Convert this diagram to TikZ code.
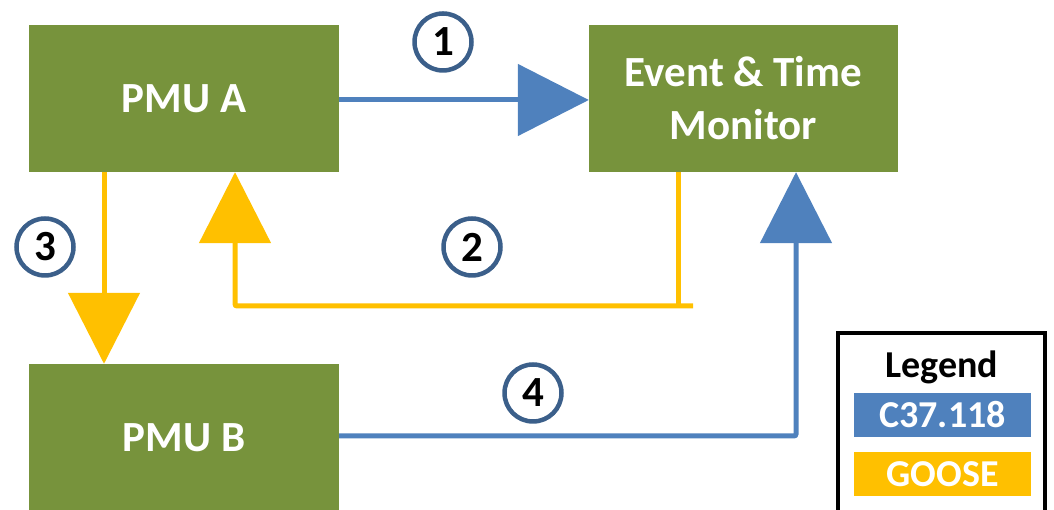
\documentclass[tikz,border=0pt]{standalone}
\usepackage{fontspec}
\setmainfont{Carlito}
\usetikzlibrary{arrows.meta,calc}
\definecolor{boxgreen}{HTML}{77933C}
\definecolor{c37blue}{HTML}{4F81BD}
\definecolor{gooseyellow}{HTML}{FFC000}
\definecolor{ringblue}{HTML}{3B5F8A}
\tikzset{
  unitbox/.style={fill=boxgreen, draw=none, minimum width=310pt, minimum height=147pt, inner sep=0pt,
    text=white, font=\fontsize{43}{53}\selectfont\bfseries, align=center},
  bar/.style={draw=none, minimum width=177pt, minimum height=44pt, inner sep=0pt,
    text=white, font=\fontsize{38}{40}\selectfont\bfseries},
  numring/.style={circle, draw=ringblue, line width=4.5pt, fill=white, minimum size=57pt, inner sep=0pt,
    font=\fontsize{43}{43}\selectfont\bfseries},
  bluelink/.style={draw=c37blue, line width=5pt, rounded corners=2pt},
  yellowlink/.style={draw=gooseyellow, line width=5pt, rounded corners=2pt},
  bigtip/.style={-{Triangle[length=71pt,width=71pt]}},
}
\begin{document}
\begin{tikzpicture}[x=1pt,y=1pt]
\useasboundingbox (0,0) rectangle (1054,510);
\begin{scope}
\clip (0,0) rectangle (1054,510);
% units
\node[unitbox] (pmua) at (184,411.5) {PMU A};
\node[unitbox, minimum width=309pt] (mon) at (743.5,411.5) {Event \& Time\\Monitor};
\node[unitbox] (pmub) at (184,72.5) {PMU B};
% legend
\node[draw=black, line width=3.5pt, minimum width=207pt, minimum height=190pt, inner sep=0pt] (leg) at (941.5,82) {};
\node[font=\fontsize{38}{40}\selectfont\bfseries] (legt) at (942,143) {Legend};
\node[bar, fill=c37blue] (legc) at (942.5,95) {C37.118};
\node[bar, fill=gooseyellow] (legg) at (942.5,36) {GOOSE};
% coordinates
\coordinate (v2) at (678,204);
\coordinate (e2) at (693,204);
\coordinate (u2) at (235,204);
\coordinate (v3) at (104,0);
\coordinate (c4) at (796,74);
% connectors
\draw[bluelink, bigtip] (pmua.east |- 0,410) -- (mon.west |- 0,410);
\draw[yellowlink] (mon.south -| v2) -- (v2);
\draw[yellowlink, bigtip] (e2) -- (u2) -- (pmua.south -| u2);
\draw[yellowlink, bigtip] (pmua.south -| v3) -- (pmub.north -| v3);
\draw[bluelink, bigtip] (pmub.east |- c4) -- (c4) -- (mon.south -| c4);
% numbers
\node[numring] (n1) at (443,468) {1};
\node[numring] (n2) at (472,263) {2};
\node[numring] (n3) at (45,263) {3};
\node[numring] (n4) at (533,117) {4};
\end{scope}
\end{tikzpicture}
\end{document}
